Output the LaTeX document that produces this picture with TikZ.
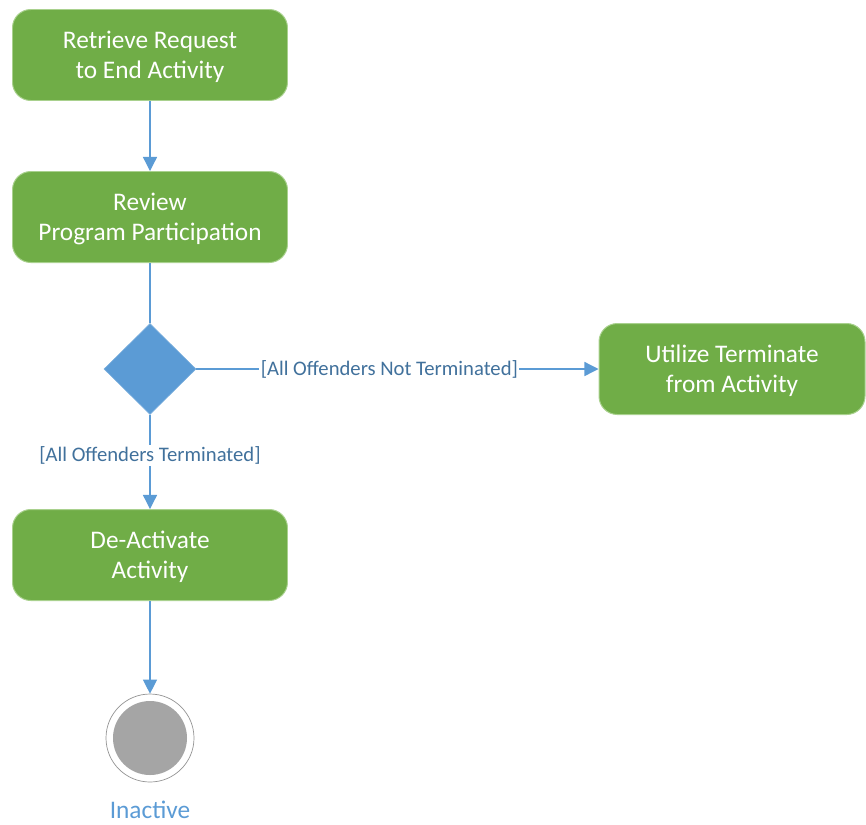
\documentclass[tikz,border=0pt]{standalone}
\usepackage{fontspec}
\setmainfont{Carlito}
\definecolor{actgreen}{HTML}{70AD47}
\definecolor{actedge}{HTML}{A9D18E}
\definecolor{flowblue}{HTML}{5B9BD5}
\definecolor{guardblue}{HTML}{41719C}
\definecolor{endgray}{HTML}{A5A5A5}
\usetikzlibrary{shapes.geometric,arrows.meta,positioning}

\begin{document}
\begin{tikzpicture}[x=0.025cm,y=-0.025cm,
  activity/.style={draw=actedge,fill=actgreen,rounded corners=13pt,minimum width=275*0.025cm,
    minimum height=91*0.025cm,text=white,align=center,font=\fontsize{18}{21.5}\selectfont,
    text depth=0pt,line width=0.7pt},
  decision/.style={diamond,draw=flowblue!80!white,fill=flowblue,minimum width=92*0.025cm,
    minimum height=91*0.025cm,inner sep=0pt},
  flow/.style={draw=flowblue,line width=0.9pt,-{Triangle[length=10pt,width=10pt]}},
  guard/.style={fill=white,text=guardblue,font=\fontsize{14.7}{16}\selectfont,inner sep=1pt}]
  \useasboundingbox (0,0) rectangle (866,824);
  % actions
  \node[activity] (retrieve) at (150,55) {Retrieve Request\\to End Activity};
  \node[activity] (review) at (150,217) {Review\\Program Participation};
  \node[decision] (check) at (150,369) {};
  \node[activity,minimum width=266*0.025cm] (utilize) at (732,369) {Utilize Terminate\\from Activity};
  \node[activity] (deactivate) at (150,555) {De-Activate\\Activity};
  % final state
  \node[circle,draw=endgray!90!black,line width=0.5pt,fill=white,minimum size=88*0.025cm] (final) at (150,738) {};
  \fill[endgray] (final) circle (37);
  \node[text=flowblue,font=\fontsize{18}{20}\selectfont,inner sep=0pt] (inactive) at (150,810) {Inactive};
  % flows
  \draw[flow] (retrieve) -- (review);
  \draw[draw=flowblue,line width=0.9pt] (review) -- (check);
  \draw[flow] (check) -- node[guard,pos=0.48] {[All Offenders Not Terminated]} (utilize);
  \draw[flow] (check) -- node[guard,pos=0.43] {[All Offenders Terminated]} (deactivate);
  \draw[flow] (deactivate) -- (final);
\end{tikzpicture}
\end{document}
